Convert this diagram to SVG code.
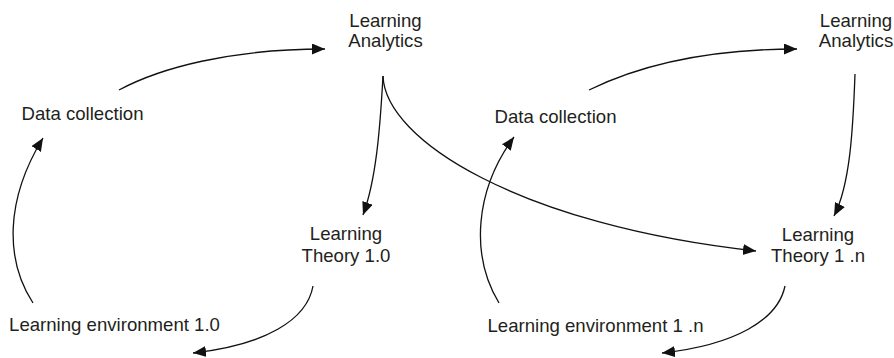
<svg xmlns="http://www.w3.org/2000/svg" width="894" height="358" viewBox="0 0 894 358">
<style>
text{font-family:"Liberation Sans",Arial,Helvetica,sans-serif;font-size:18.6px;fill:#231f20;text-anchor:middle}
.e{fill:none;stroke:#111;stroke-width:1.3}
</style>
<defs>
<marker id="ah" markerUnits="userSpaceOnUse" markerWidth="15" markerHeight="13" refX="13" refY="5.5" orient="auto">
<path d="M0,0 L13,5.5 L0,11 z" fill="#111"/>
</marker>
</defs>
<rect width="894" height="358" fill="#fff"/>
<g id="connectors">
<path class="e" marker-end="url(#ah)" d="M119,90 C160,68 230,49 325,49"/>
<path class="e" marker-end="url(#ah)" d="M383,76 C380,130 376,180 363,215"/>
<path class="e" marker-end="url(#ah)" d="M383,76 C385,140 520,225 756,251"/>
<path class="e" marker-end="url(#ah)" d="M313,286 C307,320 265,345 193,353"/>
<path class="e" marker-end="url(#ah)" d="M33,303 C5,260 5,200 43,138"/>
<path class="e" marker-end="url(#ah)" d="M589,90 C640,65 710,49 797,49"/>
<path class="e" marker-end="url(#ah)" d="M855,74 C853,130 850,185 834,216"/>
<path class="e" marker-end="url(#ah)" d="M785,286 C778,320 735,345 662,353"/>
<path class="e" marker-end="url(#ah)" d="M499,303 C470,255 475,190 514,137"/>
</g>
<g id="la1"><text x="385.5" y="27">Learning</text><text x="385.5" y="47">Analytics</text></g>
<g id="dc1"><text x="82.5" y="120">Data collection</text></g>
<g id="lt1"><text x="346" y="240">Learning</text><text x="346" y="262">Theory 1.0</text></g>
<g id="le1"><text x="114.5" y="331">Learning environment 1.0</text></g>
<g id="la2"><text x="856" y="27">Learning</text><text x="856" y="47">Analytics</text></g>
<g id="dc2"><text x="555.5" y="123">Data collection</text></g>
<g id="lt2"><text x="818" y="241">Learning</text><text x="818" y="262">Theory 1 .n</text></g>
<g id="le2"><text x="595.5" y="332">Learning environment 1 .n</text></g>
</svg>
